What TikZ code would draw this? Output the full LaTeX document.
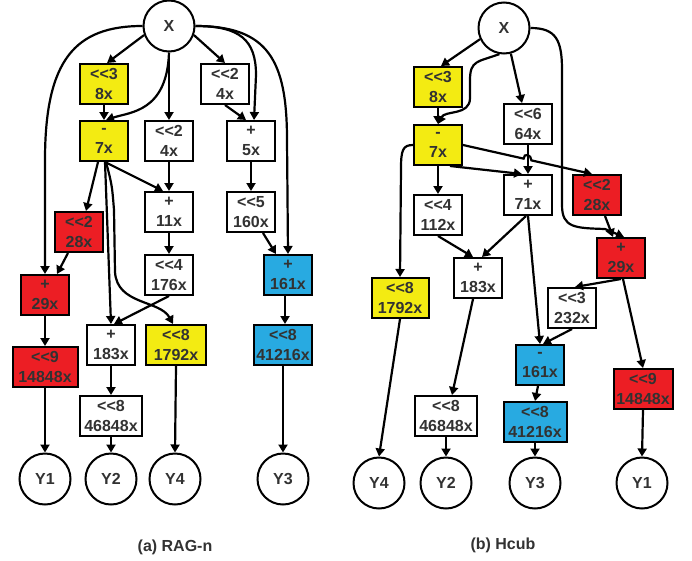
\documentclass[tikz,border=0pt]{standalone}
\usepackage{fontspec}
\setmainfont{Liberation Sans}[Ligatures=TeXOff]
\usepackage{tikz}
\usetikzlibrary{calc,arrows.meta}
\definecolor{opyellow}{RGB}{243,235,18}
\definecolor{opred}{RGB}{236,30,36}
\definecolor{opblue}{RGB}{40,170,225}
\definecolor{txtgray}{RGB}{50,50,50}
\tikzset{
  opnode/.style={draw=black,line width=2pt,minimum height=40pt,inner sep=1pt,align=center,
    font=\fontsize{16}{20}\selectfont\bfseries,text=txtgray},
  ionode/.style={circle,draw=black,line width=2pt,minimum size=51pt,inner sep=0pt,
    font=\fontsize{16}{20}\selectfont\bfseries,text=txtgray},
  wire/.style={line width=2.2pt,-{Triangle[length=8pt,width=9pt]}},
  capfont/.style={font=\fontsize{16}{19}\selectfont\bfseries,text=txtgray},
}
\newcommand{\opbox}[6][48]{\node[opnode,minimum width=#1pt,fill=#6] (#2) at (#3) {#4\\#5};}

\begin{document}
\begin{tikzpicture}[x=1pt,y=-1pt]
    \useasboundingbox (0,0) rectangle (692,560);
    % (a) RAG-n
    \node[ionode] (aX) at (169,26) {X};
    \opbox{a8x}{104,84}{<<3}{8x}{opyellow}
    \opbox{a4xtop}{225,84}{<<2}{4x}{white}
    \opbox{a7x}{104,141}{-}{7x}{opyellow}
    \opbox{a4x}{169,141}{<<2}{4x}{white}
    \opbox{a5x}{251,141}{+}{5x}{white}
    \opbox{a11x}{169,212}{+}{11x}{white}
    \opbox{a160x}{251,212}{<<5}{160x}{white}
    \opbox{a28x}{79,232}{<<2}{28x}{opred}
    \opbox{a176x}{169,275}{<<4}{176x}{white}
    \opbox{a161x}{288,275}{+}{161x}{opblue}
    \opbox{a29x}{45,295}{+}{29x}{opred}
    \opbox{a183x}{111,345}{+}{183x}{white}
    \opbox[60]{a1792x}{176,345}{<<8}{1792x}{opyellow}
    \opbox[58]{a41216x}{283,345}{<<8}{41216x}{opblue}
    \opbox[65]{a14848x}{45,367}{<<9}{14848x}{opred}
    \opbox[62]{a46848x}{111,416}{<<8}{46848x}{white}
    \node[ionode] (aY1) at (45,479) {Y1};
    \node[ionode] (aY2) at (111,479) {Y2};
    \node[ionode] (aY4) at (175,479) {Y4};
    \node[ionode] (aY3) at (283,479) {Y3};
    \node[capfont] (capA) at (175,547) {(a) RAG-n};

    \draw[wire] (aX.200) -- ([xshift=3pt]a8x.north);
    \draw[wire] (aX.-20) -- (a4xtop.north);
    \draw[wire] (aX.south) -- (a4x.north);
    \draw[wire] (aX.south) .. controls (167,112) and (130,112) .. ([xshift=2pt]a7x.north);
    \draw[wire] (aX.west) .. controls (75,26) and (45,60) .. (45,160) -- (a29x.north);
    \draw[wire] (aX.east) .. controls (240,26) and (256,40) .. (256,75) -- ([xshift=3pt]a5x.north);
    \draw[wire] (aX.east) .. controls (268,26) and (287,60) .. (287,140) -- (a161x.north);
    \draw[wire] (a8x.south) -- (a7x.north);
    \draw[wire] (a4xtop.south) -- ([xshift=-5pt]a5x.north);
    \draw[wire] (a5x.south) -- (a160x.north);
    \draw[wire] ([xshift=12pt]a160x.south) -- ([xshift=-12pt]a161x.north);
    \draw[wire] ([xshift=-3pt]a161x.south) -- ([xshift=2pt]a41216x.north);
    \draw[wire] (a41216x.south) -- (aY3.north);
    \draw[wire] (a4x.south) -- (a11x.north);
    \draw[wire] ([xshift=-6pt]a7x.south) -- ([xshift=7pt]a28x.north);
    \draw[wire] ([xshift=1pt]a7x.south) -- ([xshift=-6pt]a11x.north);
    \draw[wire] ([xshift=1pt]a7x.south) -- (a183x.north);
    \draw[wire] ([xshift=2pt]a7x.south) .. controls (112,185) .. (114,210) -- (115,272)
      .. controls (117,305) and (160,300) .. ([xshift=-3pt]a1792x.north);
    \draw[wire] (a11x.south) -- (a176x.north);
    \draw[wire] (a176x.south) -- ([xshift=3pt]a183x.north);
    \draw[wire] ([xshift=-11pt]a28x.south) -- ([xshift=12pt]a29x.north);
    \draw[wire] (a29x.south) -- (a14848x.north);
    \draw[wire] (a14848x.south) -- (aY1.north);
    \draw[wire] (a183x.south) -- (a46848x.north);
    \draw[wire] (a46848x.south) -- (aY2.north);
    \draw[wire] (a1792x.south) -- (aY4.north);

    % (b) Hcub
    \node[ionode] (bX) at (504,28) {X};
    \opbox{b8x}{438,87}{<<3}{8x}{opyellow}
    \opbox{b7x}{438,145}{-}{7x}{opyellow}
    \opbox{b64x}{528,124}{<<6}{64x}{white}
    \opbox{b71x}{528,195}{+}{71x}{white}
    \opbox{b28x}{597,195}{<<2}{28x}{opred}
    \opbox{b112x}{438,215}{<<4}{112x}{white}
    \opbox{b29x}{621,258}{+}{29x}{opred}
    \opbox{b183x}{478,278}{+}{183x}{white}
    \opbox[57]{b1792x}{400,298}{<<8}{1792x}{opyellow}
    \opbox{b232x}{572,308}{<<3}{232x}{white}
    \opbox{b161x}{540,365}{-}{161x}{opblue}
    \opbox[63]{b41216x}{535,422}{<<8}{41216x}{opblue}
    \opbox[59]{b14848x}{643,389}{<<9}{14848x}{opred}
    \opbox[62]{b46848x}{446,416}{<<8}{46848x}{white}
    \node[ionode] (bY4) at (379,483) {Y4};
    \node[ionode] (bY2) at (446,483) {Y2};
    \node[ionode] (bY3) at (535,483) {Y3};
    \node[ionode] (bY1) at (642,483) {Y1};
    \node[capfont] (capB) at (503,545) {(b) Hcub};

    \coordinate (b28in) at ([xshift=-5pt]b28x.north);
    \coordinate (hopA) at ($(b7x.east)!0.47!(b28in)$);
    \coordinate (hopB) at ($(b7x.east)!0.53!(b28in)$);

    \draw[wire] (bX.205) -- ([xshift=3pt]b8x.north);
    \draw[wire] (bX.-100) .. controls (478,62) and (470,60) .. (470,80) -- (470,98)
      .. controls (470,116) and (445,110) .. (b7x.north);
    \draw[wire] (bX.-75) -- ([xshift=-6pt]b64x.north);
    \draw[wire] (bX.east) .. controls (556,28) and (562,40) .. (562,70) -- (562,205)
      .. controls (562,228) and (575,228) .. (605,229) -- ([xshift=3pt]b29x.north);
    \draw[wire] (b8x.south) -- (b7x.north);
    \draw[wire] (b64x.south) -- (b71x.north);
    \draw[wire] ([xshift=12pt]b7x.south) -- ([xshift=-6pt]b71x.north);
    \draw[wire] (b7x.east) -- (hopA) .. controls ($(hopA)+(0,-6)$) and ($(hopB)+(0,-6)$) .. (hopB) -- (b28in);
    \draw[wire] (b7x.west) .. controls (403,145) and (401,150) .. (401,168) -- (b1792x.north);
    \draw[wire] (b7x.south) -- (b112x.north);
    \draw[wire] (b112x.south) -- ([xshift=-5pt]b183x.north);
    \draw[wire] ([xshift=-2pt]b71x.south) -- ([xshift=4pt]b183x.north);
    \draw[wire] (b71x.south) -- (b161x.north);
    \draw[wire] ([xshift=8pt]b28x.south) -- ([xshift=-8pt]b29x.north);
    \draw[wire] (b29x.south) -- ([xshift=3pt]b232x.north);
    \draw[wire] ([xshift=2pt]b29x.south) -- (b14848x.north);
    \draw[wire] (b232x.south) -- ([xshift=3pt]b161x.north);
    \draw[wire] ([xshift=-2pt]b161x.south) -- (b41216x.north);
    \draw[wire] (b41216x.south) -- (bY3.north);
    \draw[wire] ([xshift=-5pt]b183x.south) -- ([xshift=6pt]b46848x.north);
    \draw[wire] (b46848x.south) -- (bY2.north);
    \draw[wire] (b1792x.south) -- (bY4.north);
    \draw[wire] (b14848x.south) -- (bY1.north);
  \end{tikzpicture}
\end{document}
